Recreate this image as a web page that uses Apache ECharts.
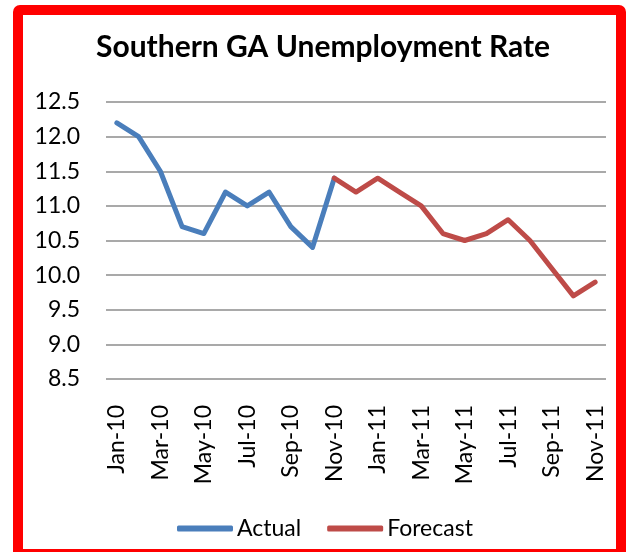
<!DOCTYPE html>
<html>
<head>
<meta charset="utf-8">
<script src="https://cdn.jsdelivr.net/npm/echarts@6/dist/echarts.min.js"></script>
<style>
html,body{margin:0;padding:0;background:#fff;}
#chart{width:626px;height:552px;}
</style>
</head>
<body>
<div id="chart"></div>
<script>
const categories = ["Jan-10","Feb-10","Mar-10","Apr-10","May-10","Jun-10","Jul-10","Aug-10","Sep-10","Oct-10","Nov-10","Dec-10",
  "Jan-11","Feb-11","Mar-11","Apr-11","May-11","Jun-11","Jul-11","Aug-11","Sep-11","Oct-11","Nov-11"];
// Actual: Jan-10 .. Nov-10
const actualValues = [12.2, 12.0, 11.5, 10.7, 10.6, 11.2, 11.0, 11.2, 10.7, 10.4, 11.4];
// Forecast: Nov-10 .. Nov-11
const forecastValues = [11.4, 11.2, 11.4, 11.2, 11.0, 10.6, 10.5, 10.6, 10.8, 10.5, 10.1, 9.7, 9.9];
const forecastStart = 10;
const yTicks = [8.5, 9.0, 9.5, 10.0, 10.5, 11.0, 11.5, 12.0, 12.5];

const actualSeries = categories.map((c, i) => i < actualValues.length ? actualValues[i] : null);
const forecastSeries = categories.map((c, i) => i >= forecastStart ? forecastValues[i - forecastStart] : null);

const FONT = 'Lato';
const chart = echarts.init(document.getElementById('chart'), null, {renderer: 'canvas'});
chart.setOption({
  animation: false,
  backgroundColor: '#fff',
  graphic: [{
    type: 'rect',
    shape: {x: 18, y: 10, width: 603, height: 544, r: 2},
    style: {fill: 'none', stroke: '#ff0000', lineWidth: 10},
    z: 100
  }],
  title: {
    text: 'Southern GA Unemployment Rate',
    left: 318,
    textAlign: 'center',
    top: 27,
    textStyle: {fontFamily: FONT, fontWeight: 'bold', fontSize: 30, color: '#000'}
  },
  legend: {
    bottom: 7,
    left: 172,
    itemWidth: 56,
    itemHeight: 6,
    itemGap: 26,
    icon: 'roundRect',
    textStyle: {fontFamily: FONT, fontSize: 23, color: '#000', padding: [0, 0, 0, -1]},
    data: ['Actual', 'Forecast']
  },
  grid: {left: 106, right: 20, top: 102, bottom: 173},
  xAxis: {
    type: 'category',
    data: categories,
    boundaryGap: true,
    axisLine: {show: false},
    axisTick: {show: false},
    axisLabel: {
      interval: 1,
      rotate: 90,
      margin: 26,
      fontFamily: FONT,
      fontSize: 23,
      color: '#000'
    }
  },
  yAxis: {
    type: 'value',
    min: yTicks[0],
    max: yTicks[yTicks.length - 1],
    interval: 0.5,
    axisLine: {show: false},
    axisTick: {show: false},
    axisLabel: {
      margin: 26,
      fontFamily: FONT,
      fontSize: 23,
      color: '#000',
      formatter: v => v.toFixed(1)
    },
    splitLine: {lineStyle: {color: '#8c8c8c', width: 1.5}}
  },
  series: [
    {
      name: 'Actual',
      type: 'line',
      data: actualSeries,
      symbol: 'none',
      color: '#4A7EBB',
      lineStyle: {width: 5, color: '#4A7EBB', cap: 'round', join: 'round'},
      connectNulls: false
    },
    {
      name: 'Forecast',
      type: 'line',
      data: forecastSeries,
      symbol: 'none',
      color: '#BE4B48',
      lineStyle: {width: 5, color: '#BE4B48', cap: 'round', join: 'round'},
      connectNulls: false
    }
  ]
});
</script>
</body>
</html>
